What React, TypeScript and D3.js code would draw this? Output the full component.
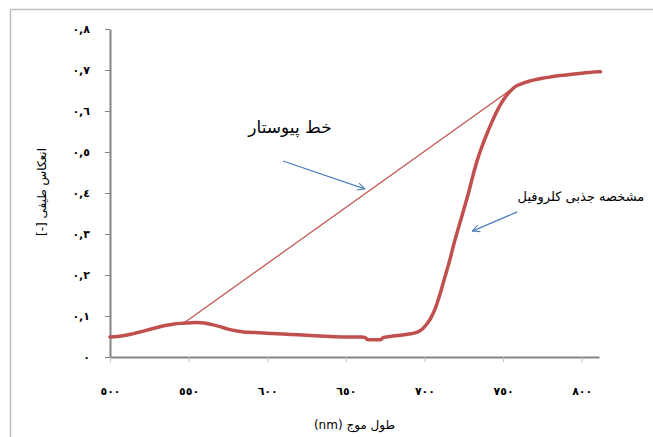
import React, { useEffect, useRef } from 'react';
import * as d3 from 'd3';

// spectrum (nm, reflectance)
const wavelengths = [500, 505, 510, 515, 520, 525, 530, 535, 540, 545, 550, 555, 560, 565, 570, 575, 580, 585, 590, 595, 600, 610, 620, 630, 640, 650, 660, 662, 664, 672, 674, 680, 690, 695, 698, 701, 704, 707, 710, 713, 716, 719, 722, 725, 728, 731, 734, 737, 740, 743, 746, 749, 752, 755, 758, 762, 766, 770, 775, 780, 785, 790, 795, 800, 805, 810, 812];
const reflectance = [0.049, 0.05, 0.053, 0.057, 0.062, 0.067, 0.072, 0.077, 0.08, 0.082, 0.083, 0.084, 0.083, 0.079, 0.074, 0.068, 0.064, 0.061, 0.06, 0.059, 0.058, 0.056, 0.054, 0.052, 0.05, 0.049, 0.049, 0.048, 0.042, 0.042, 0.048, 0.051, 0.056, 0.06, 0.066, 0.078, 0.095, 0.12, 0.155, 0.195, 0.235, 0.28, 0.32, 0.36, 0.4, 0.445, 0.485, 0.518, 0.547, 0.574, 0.599, 0.62, 0.637, 0.65, 0.66, 0.667, 0.672, 0.676, 0.68, 0.683, 0.686, 0.688, 0.69, 0.692, 0.694, 0.696, 0.696];

// continuum hull
const hullWavelengths = [547, 759];
const hullValues = [0.083, 0.663];

const xTicks = [500, 550, 600, 650, 700, 750, 800];
const xTickLabels = ['٥٠٠', '٥٥٠', '٦٠٠', '٦٥٠', '٧٠٠', '٧٥٠', '٨٠٠'];
const yTicks = [0, 0.1, 0.2, 0.3, 0.4, 0.5, 0.6, 0.7, 0.8];
const yTickLabels = ['٠', '٠,١', '٠,٢', '٠,٣', '٠,٤', '٠,٥', '٠,٦', '٠,٧', '٠,٨'];

const xTitle = 'طول موج (nm)';
const yTitle = 'انعکاس طیفی [-]';

// annotations: label, label pos, arrow from, arrow to (data coords)
const notes = [
  { text: 'خط پیوستار', at: [614.5, 0.559], from: [610, 0.478], to: [662, 0.41], size: 17 },
  { text: 'مشخصه جذبی کلروفیل', at: [799.5, 0.388], from: [759, 0.354], to: [730.5, 0.307], size: 13 },
];

const W = 653, H = 437;
const margin = { top: 29, right: 54, bottom: 80, left: 110 };
const FONT = '"DejaVu Sans", sans-serif';

export default function App() {
  const ref = useRef<SVGSVGElement>(null);

  useEffect(() => {
    const svg = d3.select(ref.current);
    svg.selectAll('*').remove();

    const x = d3.scaleLinear().domain([500, 811]).range([margin.left, W - margin.right]);
    const y = d3.scaleLinear().domain([0, 0.8]).range([H - margin.bottom, margin.top]);

    svg.append('rect').attr('x', 10.5).attr('y', 9.5).attr('width', W + 20).attr('height', H + 20)
      .attr('fill', 'white').attr('stroke', '#bfbfbf').attr('stroke-width', 1.5);

    const defs = svg.append('defs');
    defs.append('marker').attr('id', 'arr').attr('viewBox', '0 0 10 10')
      .attr('refX', 9).attr('refY', 5).attr('markerWidth', 9).attr('markerHeight', 9)
      .attr('markerUnits', 'userSpaceOnUse').attr('orient', 'auto')
      .append('path').attr('d', 'M1,1 L9,5 L1,9').attr('fill', 'none')
      .attr('stroke', '#4a7ebb').attr('stroke-width', 1.2);

    // y axis
    const yAxis = svg.append('g').attr('transform', `translate(${margin.left},0)`)
      .call(d3.axisLeft(y).tickValues(yTicks).tickSize(5).tickSizeOuter(0)
        .tickFormat((d, i) => yTickLabels[i]));
    yAxis.select('.domain').attr('stroke', '#868686').attr('stroke-width', 2);
    yAxis.selectAll('.tick line').attr('stroke', '#868686');
    yAxis.selectAll('.tick text').attr('font-family', FONT).attr('font-size', 11)
      .attr('font-weight', 'bold').attr('fill', '#000').attr('x', -20);

    // x axis
    const xAxis = svg.append('g').attr('transform', `translate(0,${y(0)})`)
      .call(d3.axisBottom(x).tickValues(xTicks).tickSize(5).tickSizeOuter(0)
        .tickFormat((d, i) => xTickLabels[i]));
    xAxis.select('.domain').attr('stroke', '#868686').attr('stroke-width', 2);
    xAxis.selectAll('.tick line').attr('stroke', '#bfbfbf');
    xAxis.selectAll('.tick text').attr('font-family', FONT).attr('font-size', 11)
      .attr('font-weight', 'bold').attr('fill', '#000').attr('y', 30);

    svg.append('text').attr('x', (margin.left + W - margin.right) / 2).attr('y', 429)
      .attr('text-anchor', 'middle').attr('direction', 'rtl').attr('font-family', FONT)
      .attr('font-size', 12).text(xTitle);
    svg.append('text').attr('transform', `translate(46,${192}) rotate(-90)`)
      .attr('text-anchor', 'middle').attr('direction', 'rtl').attr('font-family', FONT)
      .attr('font-size', 12).text(yTitle);

    // hull
    const hull = hullWavelengths.map((w, i) => [w, hullValues[i]] as [number, number]);
    svg.append('path').datum(hull)
      .attr('d', d3.line<[number, number]>().x(d => x(d[0])).y(d => y(d[1])))
      .attr('fill', 'none').attr('stroke', '#c0504d').attr('stroke-width', 1.2);

    // spectrum
    const spec = wavelengths.map((w, i) => [w, reflectance[i]] as [number, number]);
    const line = d3.line<[number, number]>().x(d => x(d[0])).y(d => y(d[1])).curve(d3.curveMonotoneX);
    svg.append('path').datum(spec)
      .attr('d', line)
      .attr('fill', 'none').attr('stroke', '#c0504d').attr('stroke-width', 3.5)
      .attr('stroke-linejoin', 'round').attr('stroke-linecap', 'round');

    // annotations
    notes.forEach(n => {
      svg.append('line')
        .attr('x1', x(n.from[0])).attr('y1', y(n.from[1]))
        .attr('x2', x(n.to[0])).attr('y2', y(n.to[1]))
        .attr('stroke', '#4a7ebb').attr('stroke-width', 1.2).attr('marker-end', 'url(#arr)');
      svg.append('text').attr('x', x(n.at[0])).attr('y', y(n.at[1]))
        .attr('text-anchor', 'middle').attr('dominant-baseline', 'middle').attr('direction', 'rtl')
        .attr('font-family', FONT).attr('font-size', n.size).text(n.text);
    });
  }, []);

  return (
    <svg ref={ref} width={W} height={H}
      style={{ position: 'absolute', left: 0, top: 0, background: 'white' }} />
  );
}
